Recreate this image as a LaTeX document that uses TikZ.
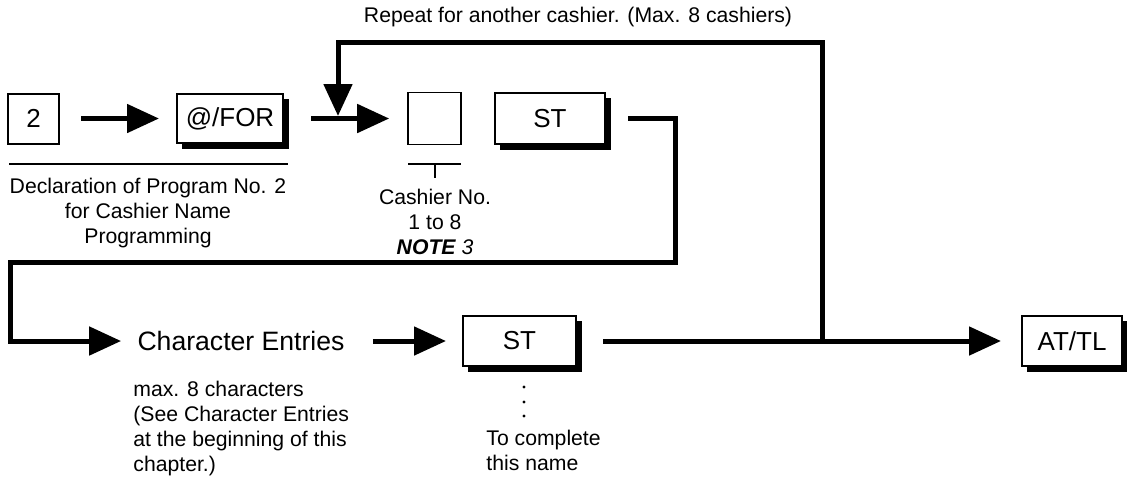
\documentclass[tikz,border=0pt]{standalone}
\usepackage{fontspec}
\setmainfont{Liberation Sans}
\usetikzlibrary{arrows.meta,calc}

\begin{document}
\begin{tikzpicture}[
        x=0.5pt, y=-0.5pt,
        font=\fontsize{10.6}{12.5}\selectfont,
        keybox/.style={draw, line width=1pt, fill=white, inner sep=0pt, font=\fontsize{13}{15}\selectfont},
        flow/.style={line width=2.5pt, -{Triangle[length=16pt,width=14pt]}},
        rule/.style={line width=1pt}
    ]
    \useasboundingbox (0,0) rectangle (1127,479);

    % Top row
    \node[keybox, minimum width=25.5pt, minimum height=25pt] (two) at (33.5,118.5) {2};
    \node[keybox, minimum width=53pt, minimum height=24.5pt] (atfor) at (230,118.5) {@/FOR};
    \node[draw, line width=0.8pt, minimum width=26.5pt, minimum height=26pt] (cashno) at (434.5,118.5) {};
    \node[keybox, minimum width=55pt, minimum height=25.5pt] (st) at (550,118.5) {ST};

    % Bottom row
    \node[inner sep=0pt, font=\fontsize{13.3}{16}\selectfont] (chars) at (241,341) {Character Entries};
    \node[keybox, minimum width=56.5pt, minimum height=25pt] (st2) at (519.5,341) {ST};
    \node[keybox, minimum width=50pt, minimum height=25pt] (attl) at (1072,341) {AT/TL};

    % Key shadows
    \foreach \k in {atfor,st,st2,attl} {
        \fill ($(\k.north east)+(0,6)$) rectangle ($(\k.south east)+(5,5)$);
        \fill ($(\k.south west)+(6,0)$) rectangle ($(\k.south east)+(5,5)$);
    }

    % Labels
    \node (repeat) at (578,17) {Repeat for another cashier. (Max. 8 cashiers)};
    \node[align=center] (decl) at (148,213) {Declaration of Program No. 2\\for Cashier Name\\Programming};
    \node[align=center] (cashlbl) at (435,222) {Cashier No.\\1 to 8\\{\bfseries\itshape NOTE}\itshape\ 3};
    \node[align=left, anchor=west, inner sep=0pt] (maxlbl) at (133,428) {max. 8 characters\\(See Character Entries\\at the beginning of this\\chapter.)};
    \node[align=left, anchor=west, inner sep=0pt] (complete) at (486,450) {To complete\\this name};
    \foreach \dy in {387,402,416} \fill (524,\dy) circle[radius=1.6];

    % Brackets
    \draw[rule] (9,164) -- (288,164);
    \draw[rule] (408,164) -- (461,164) (434.5,164) -- (434.5,178);

    % Turning points
    \coordinate (merge) at (338,116);
    \coordinate (jtop) at (822,42);
    \coordinate (jbot) at (822,341);
    \coordinate (rturn) at (675,262);
    \coordinate (lturn) at (10,262);

    % Flow
    \draw[flow, shorten <=10.5pt, shorten >=8.5pt] (two.east) -- (atfor.west);
    \draw[flow, shorten <=13.5pt, shorten >=9pt] (atfor.east) -- (cashno.west);
    \draw[flow] (jbot) -- (jtop) -| (merge);
    \draw[flow, shorten <=11pt, shorten >=8pt] (st.east) -| (rturn) -- (lturn) |- (chars.west);
    \draw[flow, shorten <=14pt, shorten >=8pt] (chars.east) -- (st2.west);
    \draw[flow, shorten <=13pt, shorten >=10pt] (st2.east) -- (attl.west);

\end{tikzpicture}
\end{document}
